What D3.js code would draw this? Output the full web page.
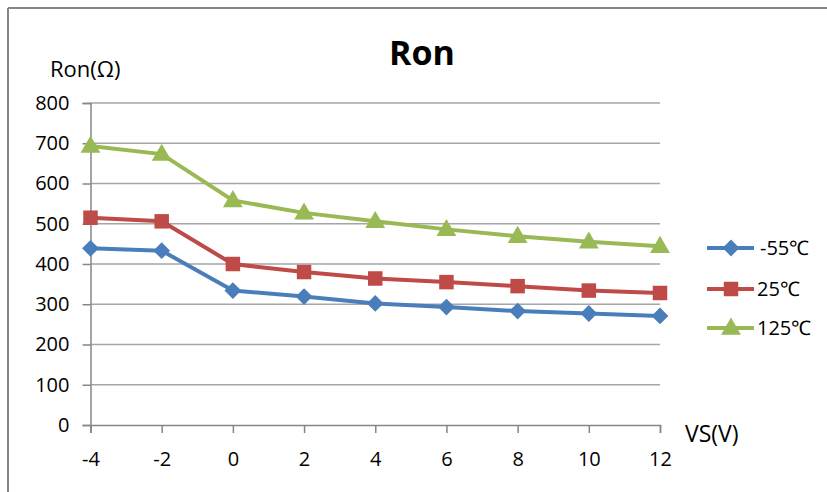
<!DOCTYPE html>
<html>
<head>
<meta charset="utf-8">
<script src="https://cdn.jsdelivr.net/npm/d3@7"></script>
<style>
  html, body { margin: 0; padding: 0; background: #fff; }
  svg { display: block; }
  text { font-family: "Open Sans", "Liberation Sans", sans-serif; fill: #000; }
</style>
</head>
<body>
<svg id="chart" width="827" height="492"></svg>
<script>
const vs = [-4, -2, 0, 2, 4, 6, 8, 10, 12];
const ronM55 = [439, 433, 334, 319, 302, 293, 283, 277, 271];
const ron25 = [515, 506, 400, 380, 364, 355, 345, 334, 328];
const ron125 = [693, 673, 558, 527, 506, 486, 469, 455, 444];
const seriesNames = ["-55\u2103", "25\u2103", "125\u2103"];
const yTicks = [0, 100, 200, 300, 400, 500, 600, 700, 800];
const xTicks = [-4, -2, 0, 2, 4, 6, 8, 10, 12];

const colors = ["#4A7EBB", "#BE4B48", "#98B954"];
const symbols = [d3.symbolDiamond2, d3.symbolSquare, d3.symbolTriangle];
const symSizes = [180, 210, 170];
const seriesVals = [ronM55, ron25, ron125];

const svg = d3.select("#chart");

// frame
svg.append("line").attr("x1", 8).attr("x2", 827).attr("y1", 8).attr("y2", 8)
  .attr("stroke", "#868686").attr("stroke-width", 2);
svg.append("line").attr("x1", 8).attr("x2", 8).attr("y1", 8).attr("y2", 492)
  .attr("stroke", "#868686").attr("stroke-width", 2);

const x = d3.scaleLinear().domain([-4, 12]).range([90.5, 660]);
const y = d3.scaleLinear().domain([0, 800]).range([425, 103]);

// gridlines
svg.append("g").selectAll("line").data(yTicks.filter(d => d > 0)).join("line")
  .attr("x1", x(-4)).attr("x2", x(12))
  .attr("y1", d => y(d)).attr("y2", d => y(d))
  .attr("stroke", "#A6A6A6").attr("stroke-width", 1.5);

// y axis
const yAxis = d3.axisLeft(y).tickValues(yTicks).tickFormat(d => String(d)).tickSize(8).tickPadding(13);
const gy = svg.append("g").attr("transform", `translate(${x(-4)},0)`).call(yAxis);
gy.select(".domain").attr("stroke", "#868686").attr("stroke-width", 1.5);
gy.selectAll(".tick line").attr("stroke", "#868686").attr("stroke-width", 1.5);
gy.selectAll(".tick text").attr("font-size", 20).attr("fill", "#000")
  .attr("font-family", "'Open Sans', sans-serif");

// x axis
const xAxis = d3.axisBottom(x).tickValues(xTicks).tickFormat(d => String(d)).tickSize(8).tickPadding(19);
const gx = svg.append("g").attr("transform", `translate(0,${y(0)})`).call(xAxis);
gx.select(".domain").attr("stroke", "#868686").attr("stroke-width", 1.5);
gx.selectAll(".tick line").attr("stroke", "#868686").attr("stroke-width", 1.5);
gx.selectAll(".tick text").attr("font-size", 20).attr("fill", "#000")
  .attr("font-family", "'Open Sans', sans-serif");

// titles
svg.append("text").attr("x", 422).attr("y", 65).attr("text-anchor", "middle")
  .attr("font-size", 34).attr("font-weight", "bold").text("Ron");
svg.append("text").attr("x", 50).attr("y", 77)
  .attr("font-size", 22).text("Ron(\u03A9)");
svg.append("text").attr("x", 685).attr("y", 442)
  .attr("font-size", 23).text("VS(V)");

// series
const line = d3.line().x((d, i) => x(vs[i])).y(d => y(d));
seriesVals.forEach((vals, si) => {
  svg.append("path").datum(vals).attr("d", line)
    .attr("fill", "none").attr("stroke", colors[si]).attr("stroke-width", 4)
    .attr("stroke-linejoin", "round");
  svg.append("g").selectAll("path").data(vals).join("path")
    .attr("transform", (d, i) => `translate(${x(vs[i])},${y(d) + (si === 2 ? 1 : 0)})`)
    .attr("d", d3.symbol().type(symbols[si]).size(symSizes[si]))
    .attr("fill", colors[si]);
});

// legend
const legY = [248, 289, 328];
seriesNames.forEach((name, si) => {
  const g = svg.append("g");
  g.append("line").attr("x1", 707).attr("x2", 754).attr("y1", legY[si]).attr("y2", legY[si])
    .attr("stroke", colors[si]).attr("stroke-width", 4);
  g.append("path").attr("transform", `translate(731,${legY[si] + (si === 2 ? 1 : 0)})`)
    .attr("d", d3.symbol().type(symbols[si]).size(symSizes[si]))
    .attr("fill", colors[si]);
  g.append("text").attr("x", si === 0 ? 760 : 757).attr("y", legY[si] + 7)
    .attr("font-size", 20).text(name);
});
</script>
</body>
</html>
